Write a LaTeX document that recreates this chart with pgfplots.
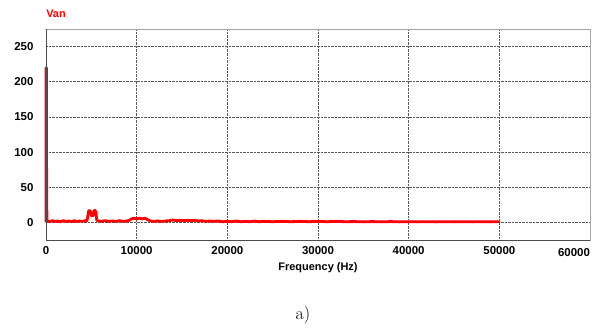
\documentclass[border=0pt]{standalone}
\usepackage{pgfplots}
\pgfplotsset{compat=1.18}
\usepackage{fontspec}
\setsansfont{Liberation Sans}
\begin{document}
\begin{tikzpicture}[x=1bp,y=1bp]
\path[use as bounding box] (0,0) rectangle (595,329);
\begin{axis}[
  at={(46bp,89bp)}, anchor=south west,
  width=544bp, height=211bp, scale only axis,
  xmin=0, xmax=60000, ymin=-25, ymax=275,
  xtick={0,10000,...,50000}, ytick={0,50,...,250},
  grid=major, grid style={densely dotted, black!65, line width=0.6pt},
  major tick length=0pt,
  axis line style={black!35, line width=0.8pt},
  ticklabel style={font=\sffamily\bfseries\fontsize{11.5}{13}\selectfont},
  /pgf/number format/assume math mode=true,
  /pgf/number format/set thousands separator={},
  scaled x ticks=false,
  xticklabel style={yshift=-3bp},
  yticklabel style={xshift=-9bp},
  clip=false,
]
\addplot[red, line width=2.8bp, line join=round] coordinates {
(0,0) (0,220) (40,220) (60,90) (100,3) (200,2) (400,1) (700,2.5) (1000,1.5) (1300,2) (1600,1) (1900,2.5)
(2200,1.5) (2500,2) (2800,1) (3100,2.5) (3400,1.5) (3700,2) (4000,1.5) (4300,2.5) (4500,2)
(4600,8) (4700,16) (4800,17) (4900,16) (5000,10) (5100,9) (5200,10) (5300,17) (5400,17) (5500,15)
(5600,3) (5800,2) (6100,1.5) (6500,2.5) (6900,1.5) (7300,2) (7700,1.5) (8100,2.5) (8500,1.5) (8900,2)
(9200,3) (9400,5) (9700,6) (10000,5) (10300,6) (10600,5) (10900,6) (11200,4) (11500,2)
(11900,1.5) (12300,2) (12700,1.5) (13100,2) (13600,2.5) (14000,3.5) (14400,2.5) (14800,3)
(15200,2.5) (15600,3) (16000,2.5) (16400,3) (16800,2) (17200,2.5) (17600,1.5) (18000,2)
(18500,1.5) (19000,2) (19500,1) (20000,1.5) (20500,1) (21000,2) (21500,1) (22000,1.5)
(22500,1) (23000,2) (23500,1) (24000,1.5) (25000,1) (26000,1.5) (27000,1) (28000,1.5)
(29000,1) (30000,1.5) (31000,1) (32000,1.5) (33000,1) (34000,1.2) (35000,0.8) (36000,1.2)
(37000,0.8) (38000,1.2) (39000,0.8) (40000,1) (41000,0.8) (42000,1) (43000,0.8) (44000,1)
(45000,0.8) (46000,1) (47000,0.8) (48000,1) (49000,0.8) (50000,1)
};
\draw[black!70, line width=1pt] (rel axis cs:0,1) -- (rel axis cs:0,0) -- (rel axis cs:1,0);
\end{axis}
\node[red, font=\sffamily\bfseries\fontsize{11}{13}\selectfont] at (56,315) {Van};
\node[font=\sffamily\bfseries\fontsize{11.5}{13}\selectfont] at (574,76) {60000};
\node[font=\sffamily\bfseries\fontsize{11}{13}\selectfont] at (318,61) {Frequency (Hz)};
\node[font=\fontsize{18}{20}\selectfont] at (303,14) {a)};
\end{tikzpicture}
\end{document}
